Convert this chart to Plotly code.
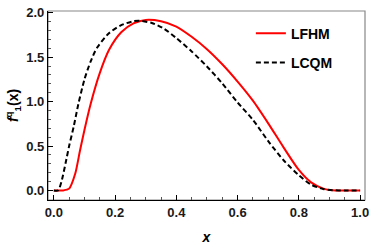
import plotly.graph_objects as go

# LFHM (red, solid)
x_lfhm = [0.0, 0.03, 0.05, 0.07, 0.085, 0.10, 0.12, 0.15, 0.18, 0.22, 0.26, 0.30,
          0.35, 0.40, 0.45, 0.50, 0.55, 0.60, 0.65, 0.70, 0.75, 0.80, 0.84, 0.88,
          0.91, 0.95, 1.0]
f_lfhm = [0.0, 0.0, 0.02, 0.19, 0.44, 0.68, 0.97, 1.32, 1.58, 1.78, 1.88, 1.92,
          1.905, 1.845, 1.73, 1.59, 1.42, 1.225, 1.01, 0.755, 0.485, 0.23, 0.09, 0.02,
          0.002, 0.0, 0.0]

# LCQM (black, dashed)
x_lcqm = [0.0, 0.014, 0.025, 0.041, 0.05, 0.065, 0.08, 0.10, 0.12, 0.14, 0.18, 0.22,
          0.26, 0.28, 0.32, 0.36, 0.40, 0.45, 0.50, 0.55, 0.60, 0.65, 0.70, 0.75,
          0.80, 0.84, 0.88, 0.91, 0.95, 1.0]
f_lcqm = [0.0, 0.0, 0.10, 0.35, 0.50, 0.72, 0.97, 1.25, 1.45, 1.60, 1.77, 1.86,
          1.905, 1.91, 1.885, 1.82, 1.715, 1.565, 1.395, 1.205, 0.99, 0.795, 0.555, 0.34,
          0.17, 0.065, 0.015, 0.002, 0.0, 0.0]

x_ticks = [0.0, 0.2, 0.4, 0.6, 0.8, 1.0]
x_tick_labels = ["0.0", "0.2", "0.4", "0.6", "0.8", "1.0"]
y_ticks = [0.0, 0.5, 1.0, 1.5, 2.0]
y_tick_labels = ["0.0", "0.5", "1.0", "1.5", "2.0"]

FONT = "Liberation Sans, Arial, sans-serif"
XR = [-0.019, 1.016]
YR = [-0.108, 2.02]

fig = go.Figure()
fig.add_trace(go.Scatter(x=x_lfhm, y=f_lfhm, mode="lines", name="<b>LFHM</b>",
                         legendgroup="a",
                         line=dict(color="#ff0000", width=2, shape="spline", smoothing=0.7)))
fig.add_trace(go.Scatter(x=x_lcqm, y=f_lcqm, mode="lines", name="<b>LCQM</b>",
                         legendgroup="b",
                         line=dict(color="#000000", width=2, dash="5px,3px",
                                   shape="spline", smoothing=0.7)))

fig.update_layout(
    width=374, height=248,
    margin=dict(l=48, r=5, t=5, b=45),
    paper_bgcolor="white", plot_bgcolor="white",
    font=dict(family=FONT, color="#000000"),
    showlegend=True,
    legend=dict(x=0.64, y=0.965, xanchor="left", yanchor="top",
                bgcolor="rgba(0,0,0,0)", tracegroupgap=8,
                font=dict(family=FONT, size=14, color="#000000")),
    shapes=[dict(type="rect", xref="paper", yref="paper", x0=0, y0=0, x1=1, y1=1,
                 line=dict(color="#888888", width=1.2), layer="below")],
)

tickfont = dict(family=FONT, size=13, color="#1a1a1a", weight="bold")

fig.update_xaxes(range=XR, autorange=False, tickmode="array", tickvals=x_ticks,
                 ticktext=x_tick_labels, showline=True, linecolor="#000000", linewidth=1.2,
                 ticks="inside", ticklen=5, tickwidth=1, tickcolor="#000000",
                 showgrid=False, zeroline=False, ticklabeloverflow="allow",
                 tickfont=tickfont,
                 minor=dict(dtick=0.05, tick0=0, ticks="inside", ticklen=2.5, tickcolor="#555555"),
                 title=dict(text="<b><i>x</i></b>", font=dict(family=FONT, size=14), standoff=13))
fig.update_yaxes(range=YR, autorange=False, tickmode="array", tickvals=y_ticks,
                 ticktext=y_tick_labels, showline=True, linecolor="#000000", linewidth=1.2,
                 ticks="inside", ticklen=5, tickwidth=1, tickcolor="#000000",
                 showgrid=False, zeroline=False, ticklabeloverflow="allow",
                 tickfont=tickfont,
                 minor=dict(dtick=0.1, tick0=0, ticks="inside", ticklen=2.5, tickcolor="#555555"),
                 title=dict(text="<b><i>f</i><sup>q</sup><sub>1</sub>(x)</b>",
                            font=dict(family=FONT, size=14), standoff=4))

fig.write_html("out.html", config={"displayModeBar": False},
               post_script="document.body.style.margin='0px';document.body.style.overflow='hidden';")
